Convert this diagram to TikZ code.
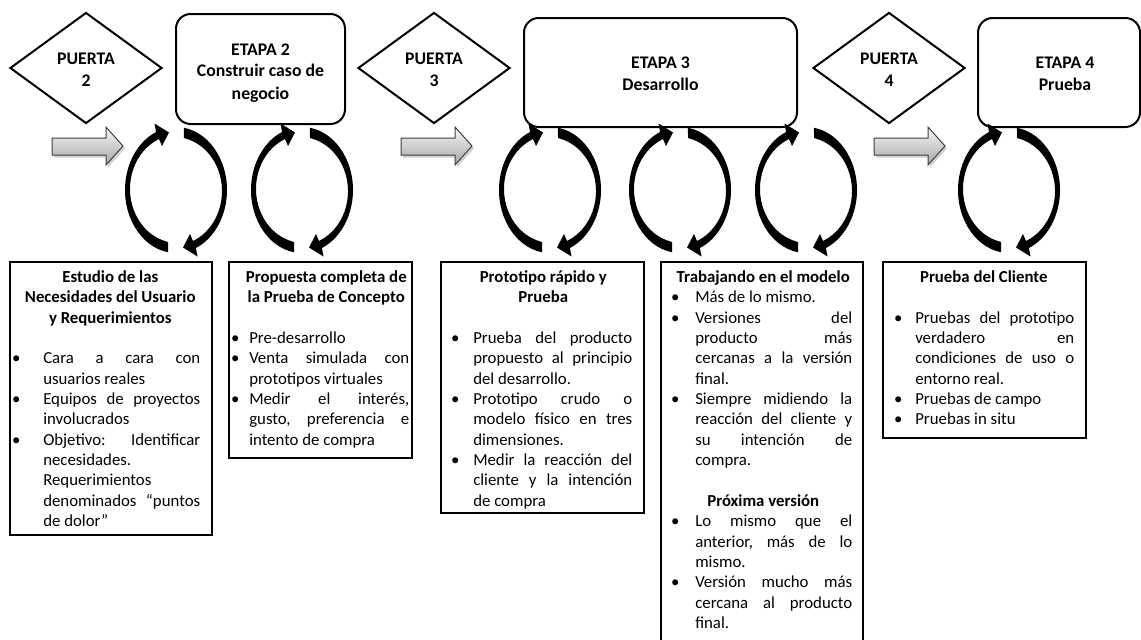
\documentclass[tikz,border=0pt]{standalone}
\usepackage{fontspec}
\setmainfont{Carlito}
\usetikzlibrary{shapes.geometric}

% one pixel of the layout grid
\newdimen\pu \pu=0.75pt
% text column geometry inside an info box (offsets from its left edge)
\newdimen\bxo \newdimen\txo \newdimen\tw \newdimen\tcx
\newcommand\layout[4]{\bxo=#1\pu \txo=#2\pu \tw=#3\pu \tcx=#4\pu}
\newcommand\ttl[1]{\hbox{\hskip\tcx\hbox to 0pt{\hss\bfseries #1\hss}}}
\newcommand\itemJ[1]{\hbox{\hskip\bxo\hbox to 0pt{\hss\textbullet\hss}\hskip\dimexpr\txo-\bxo\relax
  \hbox to\tw{\spaceskip=\fontdimen2\font plus 1fil\relax #1}}}
\newcommand\itemR[1]{\hbox{\hskip\bxo\hbox to 0pt{\hss\textbullet\hss}\hskip\dimexpr\txo-\bxo\relax #1}}
\newcommand\contJ[1]{\hbox{\hskip\txo\hbox to\tw{\spaceskip=\fontdimen2\font plus 1fil\relax #1}}}
\newcommand\contR[1]{\hbox{\hskip\txo #1}}
\newcommand\emptyrow{\hbox{}}
\newcommand\textcol[1]{\vtop{\baselineskip=15.26pt\lineskiplimit=-\maxdimen\lineskip=0pt\frenchspacing #1}}
% centred multi-line heading, baseline at the first line
\newcommand\stack[1]{\vtop{\baselineskip=16.5pt\lineskiplimit=-\maxdimen\lineskip=0pt
  \halign{\hfil##\hfil\cr#1\crcr}}}

\begin{document}
\begin{tikzpicture}[x=0.75pt,y=-0.75pt,
  gate/.style={diamond, draw=black, line width=1.5pt, fill=white,
    minimum width=114pt, minimum height=83.25pt, inner sep=0pt},
  stage/.style={rectangle, draw=black, line width=1.5pt, fill=white,
    rounded corners=11pt, inner sep=0pt},
  infobox/.style={rectangle, draw=black, line width=2.2pt, fill=white, inner sep=0pt},
  headtext/.style={anchor=base, inner sep=0pt, font=\fontsize{13.3pt}{16.5pt}\selectfont\bfseries},
  bodytext/.style={anchor=base west, inner sep=0pt, font=\fontsize{12.6pt}{15.26pt}\selectfont},
  half cycle/.pic={
    \fill[black] (99:51 and 63) arc[start angle=99, end angle=247, x radius=51, y radius=63]
      -- (-21.5,-66.5) -- (-7,-57.5) -- (-14,-44) -- (-17,-51)
      arc[start angle=246.7, end angle=102, x radius=48, y radius=54.3] -- cycle;
  },
  cycle arrows/.pic={
    \pic {half cycle};
    \pic[rotate=180] {half cycle};
  },
  block arrow/.pic={
    \fill[black, opacity=0.18, shift={(2,2.5)}]
      (0,11) -- (54,11) -- (54,0) -- (71,19) -- (54,38) -- (54,28) -- (0,28) -- cycle;
    \path[draw=black!75, line width=0.75pt, top color=black!3, bottom color=black!35]
      (0,11) -- (54,11) -- (54,0) -- (71,19) -- (54,38) -- (54,28) -- (0,28) -- cycle;
  }
]
\useasboundingbox (0,0) rectangle (1141,639);
\clip (0,0) rectangle (1141,639);
\fill[white] (0,0) rectangle (1141,639);

% gates
\node[gate] (g2) at (86,68) {};
\node[gate] (g3) at (434,68) {};
\node[gate] (g4) at (889,68) {};
\node[headtext] (g2t) at (86,64.5) {\stack{PUERTA\cr 2}};
\node[headtext] (g3t) at (434,64.5) {\stack{PUERTA\cr 3}};
\node[headtext] (g4t) at (889,64.5) {\stack{PUERTA\cr 4}};

% stages
\node[stage, minimum width=126.75pt, minimum height=82.5pt] (s2) at (260.5,69) {};
\node[stage, minimum width=204.75pt, minimum height=81.75pt] (s3) at (660.5,72.5) {};
\node[stage, minimum width=121.5pt, minimum height=81.75pt] (s4) at (1059,72.5) {};
\node[headtext] (s2t) at (260.5,55) {\stack{ETAPA 2\cr Construir caso de\cr negocio}};
\node[headtext] (s3t) at (660.5,68) {\stack{ETAPA 3\cr Desarrollo}};
\node[headtext] (s4t) at (1065,68) {\stack{ETAPA 4\cr Prueba}};

% entry arrows
\pic at (52,127) {block arrow};
\pic at (401,127) {block arrow};
\pic at (874,127) {block arrow};

% iteration loops
\foreach \cx in {176,302,550,680,806,1009} {
  \pic at (\cx,190) {cycle arrows};
}

% info boxes
\node[infobox, minimum width=151.5pt, minimum height=204.75pt] (b1) at (111,398.5) {};
\node[infobox, minimum width=137.25pt, minimum height=147pt] (b2) at (320.5,360) {};
\node[infobox, minimum width=152.25pt, minimum height=188.25pt] (b3) at (542.5,387.5) {};
\node[infobox, minimum width=151.5pt, minimum height=313.5pt] (b4) at (762,471) {};
\node[infobox, minimum width=152.25pt, minimum height=132pt] (b5) at (984.5,350) {};

\node[bodytext] (b1t) at (10,282.5) {\layout{6}{33}{157}{100}\textcol{%
  \ttl{Estudio de las}
  \ttl{Necesidades del Usuario}
  \ttl{y Requerimientos}
  \emptyrow
  \itemJ{Cara a cara con}
  \contR{usuarios reales}
  \itemJ{Equipos de proyectos}
  \contR{involucrados}
  \itemJ{Objetivo: Identificar}
  \contR{necesidades.}
  \contR{Requerimientos}
  \contJ{denominados “puntos}
  \contR{de dolor”}}};

\node[bodytext] (b2t) at (229,282.5) {\layout{6}{20}{160}{97}\textcol{%
  \ttl{Propuesta completa de}
  \ttl{la Prueba de Concepto}
  \emptyrow
  \itemR{Pre-desarrollo}
  \itemJ{Venta simulada con}
  \contR{prototipos virtuales}
  \itemJ{Medir el interés,}
  \contJ{gusto, preferencia e}
  \contR{intento de compra}}};

\node[bodytext] (b3t) at (441,282.5) {\layout{14}{32}{159}{102}\textcol{%
  \ttl{Prototipo rápido y}
  \ttl{Prueba}
  \emptyrow
  \itemJ{Prueba del producto}
  \contJ{propuesto al principio}
  \contR{del desarrollo.}
  \itemJ{Prototipo crudo o}
  \contJ{modelo físico en tres}
  \contR{dimensiones.}
  \itemJ{Medir la reacción del}
  \contJ{cliente y la intención}
  \contR{de compra}}};

\node[bodytext] (b4t) at (661,282.5) {\layout{14}{34}{157}{102}\textcol{%
  \ttl{Trabajando en el modelo}
  \itemR{Más de lo mismo.}
  \itemJ{Versiones del}
  \contJ{producto más}
  \contJ{cercanas a la versión}
  \contR{final.}
  \itemJ{Siempre midiendo la}
  \contJ{reacción del cliente y}
  \contJ{su intención de}
  \contR{compra.}
  \emptyrow
  \ttl{Próxima versión}
  \itemJ{Lo mismo que el}
  \contJ{anterior, más de lo}
  \contR{mismo.}
  \itemJ{Versión mucho más}
  \contJ{cercana al producto}
  \contR{final.}}};

\node[bodytext] (b5t) at (883,282.5) {\layout{15}{32}{159}{100.5}\textcol{%
  \ttl{Prueba del Cliente}
  \emptyrow
  \itemJ{Pruebas del prototipo}
  \contJ{verdadero en}
  \contJ{condiciones de uso o}
  \contR{entorno real.}
  \itemR{Pruebas de campo}
  \itemR{Pruebas in situ}}};
\end{tikzpicture}
\end{document}
